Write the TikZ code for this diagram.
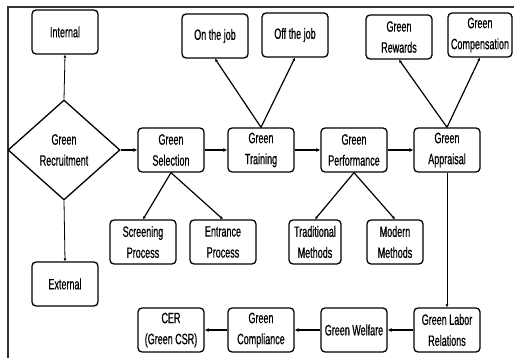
\documentclass[tikz,border=0pt]{standalone}
\usepackage{fontspec}
\setmainfont{Liberation Sans}[FakeStretch=0.6,FakeBold=0.6]
\usepackage{tikz}
\usetikzlibrary{arrows.meta,shapes.geometric}

\begin{document}
\begin{tikzpicture}[
			x=1pt,
			y=-1pt,
			% Rounded stage boxes
			stageBox/.style={
				rectangle,
				rounded corners=4pt,
				draw=black,
				line width=1.3pt,
				fill=white,
				minimum width=66pt,
				minimum height=44pt,
				inner sep=1pt,
				align=center,
				font=\fontsize{15}{21}\selectfont
			},
			decisionNode/.style={
				diamond,
				draw=black,
				line width=1.3pt,
				fill=white,
				minimum width=112pt,
				minimum height=100pt,
				inner sep=0pt,
				align=center,
				font=\fontsize{15}{21}\selectfont
			},
			flowArrow/.style={
				-{Latex[length=4pt,width=4pt]},
				line width=1.3pt
			},
			branchLine/.style={
				-{Latex[length=3pt,width=3pt]},
				line width=1.2pt
			},
			thinArrow/.style={
				-{Latex[length=3pt,width=3pt]},
				line width=0.8pt
			}
			]
			
			% Page frame
			\useasboundingbox (0,0) rectangle (514,358);
			\draw[gray!40!black,line width=1.8pt] (8,358)--(8,7)--(514,7);
			
			% Main stages
			\node[decisionNode] (recruit) at (64,150) {Green\\Recruitment};
			\node[stageBox] (selection)   at (171,150) {Green\\Selection};
			\node[stageBox] (training)    at (261,150) {Green\\Training};
			\node[stageBox] (performance) at (354,150) {Green\\Performance};
			\node[stageBox] (appraisal)   at (447,150) {Green\\Appraisal};
			
			% Lower stages
			\node[stageBox] (labor)      at (447,330) {Green Labor\\Relations};
			\node[stageBox] (welfare)    at (354,330) {Green Welfare};
			\node[stageBox] (compliance) at (261,330) {Green\\Compliance};
			\node[stageBox] (cer)        at (171,330) {CER\\(Green CSR)};
			
			% Sub-items
			\node[stageBox] (internal)     at (65,32)   {Internal};
			\node[stageBox] (external)     at (65,284)  {External};
			\node[stageBox] (onjob)        at (215,36)  {On the job};
			\node[stageBox] (offjob)       at (295,35)  {Off the job};
			\node[stageBox] (rewards)      at (399,37)  {Green\\Rewards};
			\node[stageBox,minimum width=64pt] (compensation) at (480,35) {Green\\Compensation};
			\node[stageBox] (screening)    at (143,242) {Screening\\Process};
			\node[stageBox] (entrance)     at (223,242) {Entrance\\Process};
			\node[stageBox,minimum width=52pt] (traditional) at (315,242) {Traditional\\Methods};
			\node[stageBox,minimum width=56pt] (modern)      at (395,242) {Modern\\Methods};
			
			% Main flow
			\draw[flowArrow] (recruit.east)--(selection.west);
			\draw[flowArrow] (selection)--(training);
			\draw[flowArrow] (training)--(performance);
			\draw[flowArrow] (performance)--(appraisal);
			\draw[thinArrow] (appraisal)--(labor);
			\draw[flowArrow] (labor)--(welfare);
			\draw[flowArrow] (welfare)--(compliance);
			\draw[flowArrow] (compliance)--(cer);
			
			% Branches
			\draw[thinArrow] (recruit.north)--(internal.south);
			\draw[thinArrow] (recruit.south)--(external.north);
			\draw[branchLine] (training.north)--(onjob.south);
			\draw[branchLine] (training.north)--(offjob.south);
			\draw[branchLine] (appraisal.north)--(rewards.south);
			\draw[branchLine] (appraisal.north)--(compensation.south);
			\draw[branchLine] (selection.south)--(screening.north);
			\draw[branchLine] (selection.south)--(entrance.north);
			\draw[branchLine] (performance.south)--(traditional.north);
			\draw[branchLine] (performance.south)--(modern.north);
			
		\end{tikzpicture}
\end{document}
